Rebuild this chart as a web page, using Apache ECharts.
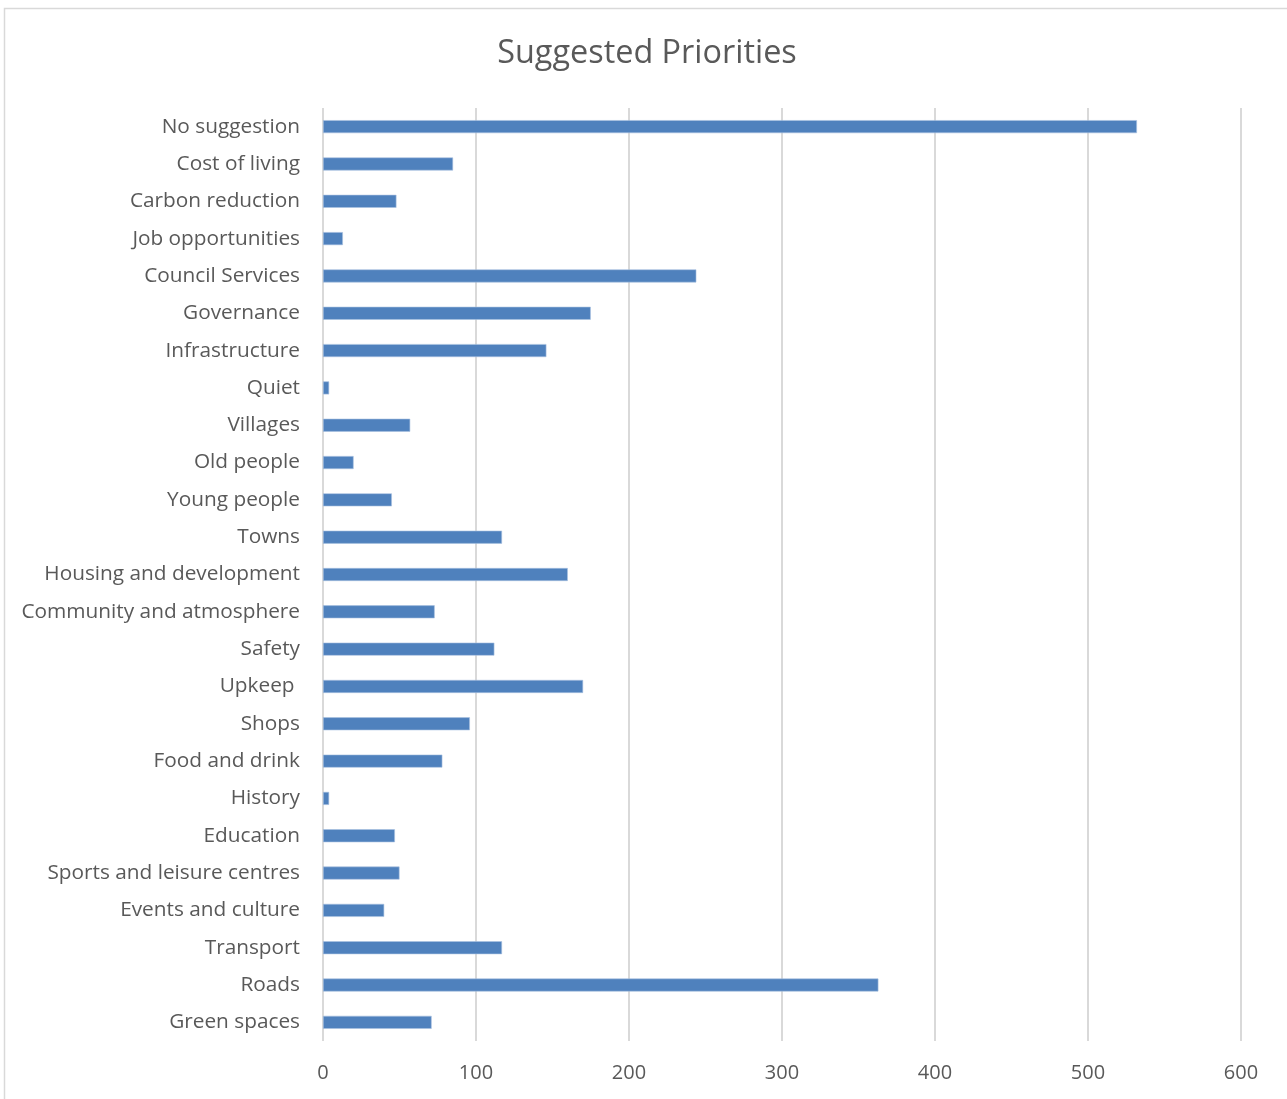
<!DOCTYPE html>
<html>
<head>
<meta charset="utf-8">
<script src="https://cdn.jsdelivr.net/npm/echarts@6/dist/echarts.min.js"></script>
<style>
  html, body { margin: 0; padding: 0; background: #ffffff; }
  #chart { width: 1287px; height: 1099px; }
</style>
</head>
<body>
<div id="chart"></div>
<script>
// Survey responses: suggested priorities, listed top to bottom
const categories = [
  'No suggestion', 'Cost of living', 'Carbon reduction', 'Job opportunities',
  'Council Services', 'Governance', 'Infrastructure', 'Quiet', 'Villages',
  'Old people', 'Young people', 'Towns', 'Housing and development',
  'Community and atmosphere', 'Safety', 'Upkeep ', 'Shops', 'Food and drink',
  'History', 'Education', 'Sports and leisure centres', 'Events and culture',
  'Transport', 'Roads', 'Green spaces'
];
const counts = [
  532, 85, 48, 13,
  244, 175, 146, 4, 57,
  20, 45, 117, 160,
  73, 112, 170, 96, 78,
  4, 47, 50, 40,
  117, 363, 71
];
const xTicks = { min: 0, max: 600, interval: 100 };

const fontFamily = '"Open Sans", "Noto Sans", sans-serif';
const textColor = '#595959';
const gridColor = '#d9d9d9';

const chart = echarts.init(document.getElementById('chart'), null, { renderer: 'canvas' });
chart.setOption({
  animation: false,
  backgroundColor: '#ffffff',
  title: {
    text: 'Suggested Priorities',
    left: 642,
    top: 33,
    textAlign: 'center',
    textStyle: { fontFamily, fontSize: 32.4, fontWeight: 'normal', color: textColor }
  },
  graphic: [{
    type: 'rect',
    shape: { x: 4.5, y: 8.5, width: 1400, height: 1200 },
    style: { fill: 'none', stroke: gridColor, lineWidth: 1.5 },
    silent: true
  }],
  grid: { left: 323, right: 46, top: 108, bottom: 58, containLabel: false },
  xAxis: {
    type: 'value',
    min: xTicks.min,
    max: xTicks.max,
    interval: xTicks.interval,
    axisLine: { show: false },
    axisTick: { show: false },
    splitLine: { show: true, lineStyle: { color: gridColor, width: 2 } },
    axisLabel: { fontFamily, fontSize: 20, color: textColor, margin: 22 }
  },
  yAxis: {
    type: 'category',
    data: categories,
    inverse: true,
    axisLine: { show: false },
    axisTick: { show: false },
    splitLine: { show: false },
    axisLabel: { fontFamily, fontSize: 20.8, color: textColor, margin: 23 }
  },
  series: [{
    type: 'bar',
    data: counts,
    barWidth: 13,
    itemStyle: { color: '#4f81bd', borderColor: '#a9c1e0', borderWidth: 0.6 }
  }]
});
</script>
</body>
</html>
